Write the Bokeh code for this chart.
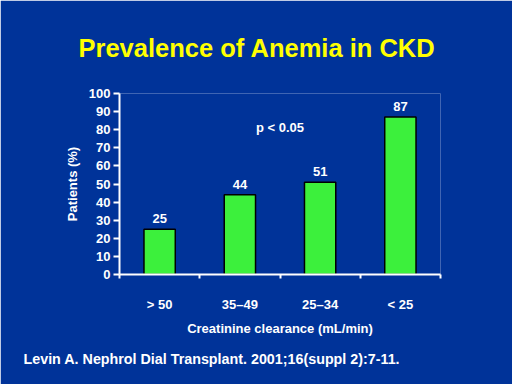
from bokeh.plotting import figure
from bokeh.models import ColumnDataSource, Range1d, FixedTicker, Label, Title
from bokeh.core.properties import value
from bokeh.embed import file_html
from bokeh.resources import INLINE

# ---- data ----
categories = ["> 50", "35\u201349", "25\u201334", "< 25"]
patients_pct = [25, 44, 51, 87]
y_ticks = [0, 10, 20, 30, 40, 50, 60, 70, 80, 90, 100]
title_text = "Prevalence of Anemia in CKD"
note_text = "p < 0.05"
foot_text = "Levin A. Nephrol Dial Transplant. 2001;16(suppl 2):7-11."

BG = "#003399"
GREEN = "#3CF03C"
FONT = "Liberation Sans"

centers = [i + 0.5 for i in range(len(categories))]
bounds = list(range(len(categories) + 1))
src = ColumnDataSource(dict(x=centers, top=patients_pct,
                            lab=[str(v) for v in patients_pct]))

p = figure(width=512, height=384, output_backend="svg", toolbar_location=None,
           x_range=Range1d(0, len(categories)), y_range=Range1d(0, 100),
           min_border_left=119, min_border_right=72, min_border_top=93,
           min_border_bottom=110)
p.background_fill_color = BG
p.border_fill_color = BG
p.outline_line_color = None
p.grid.grid_line_color = None

p.vbar(x="x", top="top", width=0.39, bottom=0, source=src,
       fill_color=GREEN, line_color="black", line_width=1.5)
p.text(x="x", y="top", text="lab", source=src, y_offset=-6,
       text_align="center", text_baseline="bottom", text_color="white",
       text_font=value(FONT), text_font_style="bold", text_font_size="13px")

p.add_layout(Label(x=2.0, y=81, text=note_text, text_align="center",
                   text_baseline="middle", text_color="white",
                   text_font=FONT, text_font_style="bold",
                   text_font_size="13px"))

xa = p.xaxis[0]
xa.ticker = FixedTicker(ticks=centers, minor_ticks=bounds)
xa.major_label_overrides = {c: lab for c, lab in zip(centers, categories)}
xa.major_tick_line_color = None
xa.minor_tick_line_color = "white"
xa.minor_tick_line_width = 2
xa.minor_tick_out = 4
xa.minor_tick_in = 0
xa.major_label_standoff = 16
xa.axis_label = "Creatinine clearance (mL/min)"
xa.axis_label_standoff = 6

ya = p.yaxis[0]
ya.ticker = FixedTicker(ticks=y_ticks)
ya.minor_tick_line_color = None
ya.major_tick_line_color = "white"
ya.major_tick_line_width = 2
ya.major_tick_out = 6
ya.major_tick_in = 0
ya.major_label_standoff = 3
ya.axis_label = "Patients (%)"
ya.axis_label_standoff = 6

for ax in (xa, ya):
    ax.axis_line_color = "white"
    ax.axis_line_width = 2
    ax.major_label_text_color = "white"
    ax.major_label_text_font = FONT
    ax.major_label_text_font_style = "bold"
    ax.major_label_text_font_size = "13px"
    ax.axis_label_text_color = "white"
    ax.axis_label_text_font = FONT
    ax.axis_label_text_font_style = "bold"
    ax.axis_label_text_font_size = "13px"

# title
p.title = Title(text=title_text, align="left", offset=-41, standoff=63,
                text_color="#FFFF00", text_font=FONT, text_font_style="bold",
                text_font_size="25.5px")
p.title_location = "above"

# footnote
p.add_layout(Title(text=foot_text, align="left", offset=-96, standoff=20,
                   text_color="white", text_font=FONT, text_font_style="bold",
                   text_font_size="14.3px"), "below")

open("out.html", "w").write(file_html(p, INLINE))
